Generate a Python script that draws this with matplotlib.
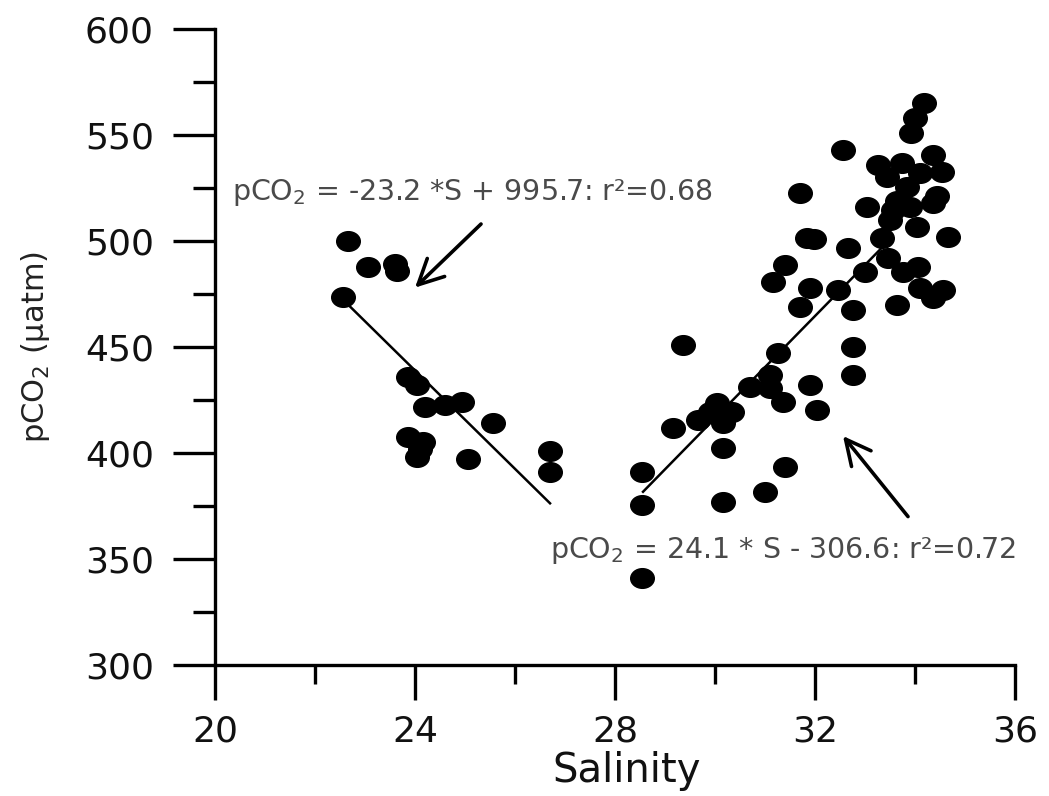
import matplotlib
matplotlib.use("Agg")
import matplotlib.pyplot as plt
import numpy as np
from matplotlib.path import Path
from matplotlib.transforms import Affine2D

plt.rcParams.update({
    'font.family': 'DejaVu Sans',
    'mathtext.fontset': 'dejavusans',
})

# low-salinity group
sal_low = [22.66, 22.56, 23.06, 23.60, 23.64, 23.86, 24.04, 24.20, 24.60,
           24.94, 25.56, 23.86, 24.16, 24.04, 24.10, 25.06, 26.70, 26.70]
pco2_low = [500, 473.5, 487.5, 489, 486, 436, 432, 421.7, 422.6,
            424, 414, 407.5, 405, 398, 402, 397, 401, 391]

# high-salinity group
sal_high = [28.54, 28.54, 28.54, 29.16, 29.36, 29.66, 29.90, 30.04, 30.16,
            30.34, 30.16, 30.16, 30.70, 31.00, 31.10, 31.10, 31.36, 31.40,
            31.90, 32.04, 31.26, 32.76, 32.76, 32.76, 31.70, 31.16, 31.40,
            31.90, 32.46, 31.84, 31.98, 32.66, 31.70, 32.56, 33.00, 33.34,
            33.46, 33.76, 34.06, 34.10, 34.56, 34.36, 33.64, 33.04, 33.56,
            33.90, 34.36, 33.50, 34.04, 34.66, 33.64, 33.84, 34.44, 34.10,
            33.44, 34.54, 33.74, 33.26, 34.36, 33.92, 34.00, 34.18]
pco2_high = [341, 375.5, 391, 412, 451, 415.6, 419.3, 423.6, 414,
             419.3, 402.4, 377, 431, 381.6, 436.8, 430.7, 424, 393.4,
             432, 420.3, 447, 436.8, 450, 467.5, 469, 480.7, 488.7,
             477.8, 477, 501.5, 501, 496.7, 522.6, 543, 485.4, 501.4,
             492, 485.4, 487.7, 477.8, 476.9, 473, 469.8, 516, 514.6,
             516, 518, 510, 506.6, 502, 519, 525.5, 521, 532,
             530, 532.5, 537, 535.8, 540.6, 551, 558, 565]

# regression fits (slope, intercept) and the salinity range each line spans
fit_low = (-23.2, 995.7)
fit_high = (24.1, -306.6)
range_low = [22.56, 26.70]
range_high = [28.56, 33.40]

label_low = "pCO$_2$ = -23.2 *S + 995.7: r²=0.68"
label_high = "pCO$_2$ = 24.1 * S - 306.6: r²=0.72"

fig = plt.figure(figsize=(10.49, 7.96), dpi=100)
ax = fig.add_axes([0.205, 0.1646, 0.7626, 0.799])

# slightly wide ellipse marker, like the stretched original
oval = Path.unit_circle().transformed(Affine2D().scale(1.2, 1.0))

ax.plot(sal_low, pco2_low, linestyle='None', marker=oval, ms=17, color='black')
ax.plot(sal_high, pco2_high, linestyle='None', marker=oval, ms=17, color='black')

for (m, b), xr in [(fit_low, range_low), (fit_high, range_high)]:
    xs = np.array(xr)
    ax.plot(xs, m * xs + b, color='black', lw=1.8)

ax.text(20.34, 523, label_low, fontsize=20.5, color='#4a4a4a', va='center', ha='left')
ax.text(26.70, 354, label_high, fontsize=20.5, color='#4a4a4a', va='center', ha='left')

arrow = dict(arrowstyle='->,head_length=0.9,head_width=0.45', lw=2.6,
             color='black', shrinkA=0, shrinkB=0, mutation_scale=20)
ax.annotate('', xy=(24.0, 478), xytext=(25.32, 508), arrowprops=arrow)
ax.annotate('', xy=(32.56, 408), xytext=(33.86, 370), arrowprops=arrow)

ax.set_xlim(20, 36)
ax.set_ylim(300, 600)
ax.set_xticks([20, 24, 28, 32, 36])
ax.set_xticks([22, 26, 30, 34], minor=True)
ax.set_yticks(np.arange(300, 601, 50))
ax.set_yticks(np.arange(325, 600, 50), minor=True)

for s in ['top', 'right']:
    ax.spines[s].set_visible(False)
for s in ['left', 'bottom']:
    ax.spines[s].set_linewidth(2.4)

ax.tick_params(axis='x', which='major', direction='out', length=25, width=2.4,
               labelsize=26, pad=11, labelcolor='#111111')
ax.tick_params(axis='x', which='minor', direction='out', length=14, width=2.4)
ax.tick_params(axis='y', which='major', direction='out', length=30, width=2.4,
               labelsize=26, pad=14, labelcolor='#111111')
ax.tick_params(axis='y', which='minor', direction='out', length=16, width=2.4)

ax.set_xlabel('Salinity', fontsize=29, color='#111111')
ax.xaxis.set_label_coords(0.515, -0.135)
ax.set_ylabel('pCO$_2$ (µatm)', fontsize=22, color='#222222', labelpad=24)

fig.savefig('out.png', dpi=100)
